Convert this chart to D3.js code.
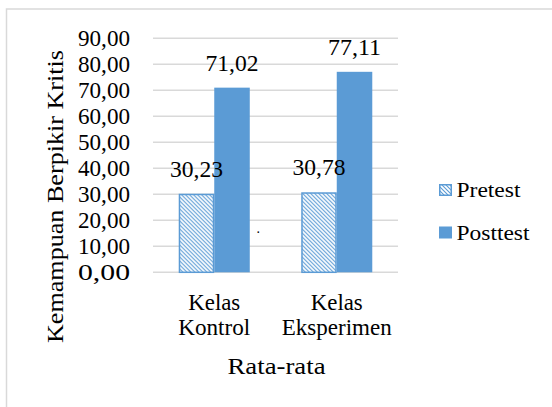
<!DOCTYPE html>
<html><head><meta charset="utf-8">
<script src="https://cdn.jsdelivr.net/npm/d3@7"></script>
<style>
html,body{margin:0;padding:0;background:#fff;}
svg text{font-family:'Liberation Serif','Times New Roman',Times,Tinos,'DejaVu Serif','Noto Serif',serif;fill:#000;}
</style></head>
<body><svg id="chart" width="552" height="407"></svg>
<script>
const categories = ["Kelas Kontrol", "Kelas Eksperimen"];
const categoryLines = [["Kelas", "Kontrol"], ["Kelas", "Eksperimen"]];
const seriesNames = ["Pretest", "Posttest"];
const pretest = [30.23, 30.78];
const posttest = [71.02, 77.11];
const yTicks = [0, 10, 20, 30, 40, 50, 60, 70, 80, 90];
const yTitle = "Kemampuan Berpikir Kritis";
const xTitle = "Rata-rata";

const fmt = v => d3.format(".2f")(v).replace(".", ",");
const blue = "#5b9bd5";
const FONT = "'Liberation Serif','Times New Roman',Times,Tinos,'DejaVu Serif','Noto Serif',serif";
const svg = d3.select("#chart");

// chart border (only top/left visible)
svg.append("rect").attr("x", 6.5).attr("y", 9).attr("width", 700).attr("height", 600)
  .attr("fill", "none").attr("stroke", "#d9d9d9").attr("stroke-width", 1.5);

const defs = svg.append("defs");
const pat = defs.append("pattern").attr("id", "hatch").attr("patternUnits", "userSpaceOnUse")
  .attr("width", 4).attr("height", 4);
pat.append("rect").attr("width", 4).attr("height", 4).attr("fill", "#fff");
pat.append("path").attr("d", "M0,0 L4,4 M-1,3 L1,5 M3,-1 L5,1")
  .attr("stroke", blue).attr("stroke-width", 1.1);

const plot = {left: 153, right: 398, top: 38.3, bottom: 272.3};
const y = d3.scaleLinear().domain([0, 90]).range([plot.bottom, plot.top]);
const x0 = d3.scaleBand().domain(categories).range([plot.left, plot.right])
  .paddingInner(0.42).paddingOuter(0.21);
const x1 = d3.scaleBand().domain(seriesNames).range([0, x0.bandwidth()]);

// gridlines
svg.append("g").selectAll("line").data(yTicks).join("line")
  .attr("x1", plot.left).attr("x2", plot.right)
  .attr("y1", d => y(d)).attr("y2", d => y(d))
  .attr("stroke", "#d9d9d9").attr("stroke-width", 1.5);

const T = sel => sel.attr("font-family", FONT);

// y tick labels
svg.append("g").selectAll("text").data(yTicks).join("text").call(T)
  .attr("x", 130).attr("y", d => y(d) + 8)
  .attr("text-anchor", "end").attr("font-size", 23)
  .attr("textLength", 52).attr("lengthAdjust", "spacingAndGlyphs")
  .text(d => fmt(d));

// bars
const rows = categories.map((c, i) => ({cat: c, vals: [
  {s: "Pretest", v: pretest[i]}, {s: "Posttest", v: posttest[i]}]}));
const g = svg.append("g").selectAll("g").data(rows).join("g")
  .attr("transform", d => `translate(${x0(d.cat)},0)`);
g.selectAll("rect").data(d => d.vals).join("rect")
  .attr("x", d => x1(d.s) + (d.s === "Pretest" ? 0.75 : 0))
  .attr("y", d => y(d.v) + (d.s === "Pretest" ? 0.75 : 0))
  .attr("width", d => x1.bandwidth() - (d.s === "Pretest" ? 1.5 : 0))
  .attr("height", d => plot.bottom - y(d.v) - (d.s === "Pretest" ? 0.75 : 0))
  .attr("fill", d => d.s === "Pretest" ? "url(#hatch)" : blue)
  .attr("stroke", d => d.s === "Pretest" ? blue : "none")
  .attr("stroke-width", 1.5);
g.selectAll("text").data(d => d.vals).join("text").call(T)
  .attr("x", d => x1(d.s) + x1.bandwidth() / 2)
  .attr("y", d => y(d.v) - 17)
  .attr("text-anchor", "middle").attr("font-size", 23)
  .attr("textLength", 53).attr("lengthAdjust", "spacingAndGlyphs")
  .text(d => fmt(d.v));

// category labels
const catW = [[52, 72], [52, 110]];
categories.forEach((c, i) => {
  const cx = x0(c) + x0.bandwidth() / 2;
  categoryLines[i].forEach((line, j) => {
    svg.append("text").call(T).attr("x", cx).attr("y", 310 + j * 25)
      .attr("text-anchor", "middle").attr("font-size", 23)
      .attr("textLength", catW[i][j]).attr("lengthAdjust", "spacingAndGlyphs").text(line);
  });
});

// axis titles
svg.append("text").call(T).attr("x", (plot.left + plot.right) / 2 + 1).attr("y", 374)
  .attr("text-anchor", "middle").attr("font-size", 24)
  .attr("textLength", 98).attr("lengthAdjust", "spacingAndGlyphs").text(xTitle);
svg.append("text").call(T).attr("transform", "translate(63,196.5) rotate(-90)")
  .attr("text-anchor", "middle").attr("font-size", 24)
  .attr("textLength", 293).attr("lengthAdjust", "spacingAndGlyphs").text(yTitle);

// stray dot in original
svg.append("text").call(T).attr("x", 256.5).attr("y", 233).attr("font-size", 14).text(".");

// legend
const legendY = [190, 232.5];
const lg = svg.append("g").selectAll("g").data(seriesNames).join("g")
  .attr("transform", (d, i) => `translate(439,${legendY[i]})`);
lg.append("rect").attr("x", d => d === "Pretest" ? 0.75 : 0).attr("y", d => d === "Pretest" ? -5.25 : -6)
  .attr("width", d => d === "Pretest" ? 11.5 : 13).attr("height", d => d === "Pretest" ? 10.5 : 12)
  .attr("fill", d => d === "Pretest" ? "url(#hatch)" : blue)
  .attr("stroke", d => d === "Pretest" ? blue : "none").attr("stroke-width", 1.5);
lg.append("text").call(T).attr("x", 17.5).attr("y", 7).attr("font-size", 22)
  .attr("textLength", (d, i) => [64, 73][i]).attr("lengthAdjust", "spacingAndGlyphs")
  .text(d => d);
</script></body></html>
